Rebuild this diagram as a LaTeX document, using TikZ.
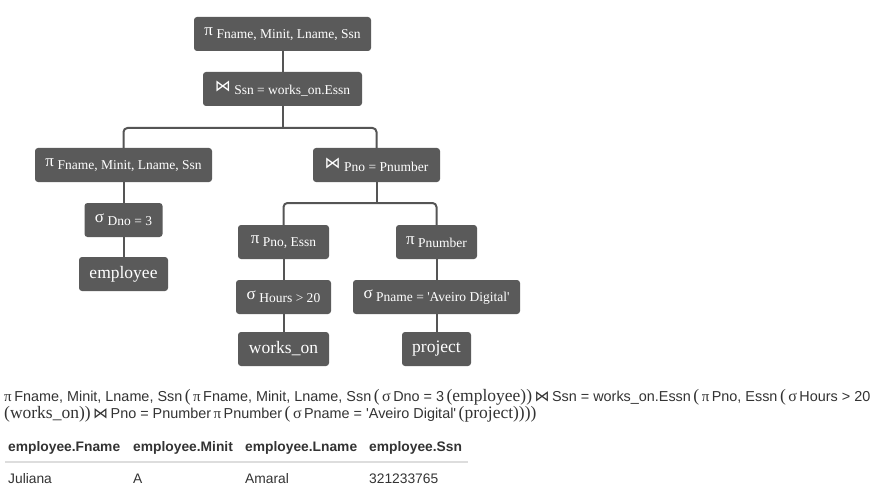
\documentclass[tikz,border=0pt]{standalone}
\usepackage{fontspec}
\setmainfont{Liberation Serif}
\newfontfamily\sansf{Liberation Sans}
\newfontfamily\dejavu{DejaVu Sans}
\definecolor{boxc}{HTML}{5A5A5A}
\definecolor{linec}{HTML}{555555}
\definecolor{txtc}{HTML}{333333}
\definecolor{rulec}{HTML}{DDDDDD}
% box label helpers
\newcommand\bpi{{\fontsize{17}{18}\selectfont π}}
\newcommand\bsig{{\fontsize{17}{18}\selectfont σ}}
\newcommand\bbow{{\dejavu\fontsize{16}{18}\selectfont ⋈}}
\newcommand\bsub[1]{\raisebox{-3pt}{\fontsize{13.5}{15}\selectfont #1}}
% expression helpers
\newcommand\epi{{\fontsize{15}{16}\selectfont π}}
\newcommand\esig{{\fontsize{16}{16}\selectfont σ}}
\newcommand\ebow{{\dejavu\fontsize{15}{16}\selectfont ⋈}}
\newcommand\esf[1]{{\sansf\fontsize{14.4}{16}\selectfont #1}}
\newcommand\ebig[1]{{\fontsize{17.5}{20}\selectfont #1}}
\newcommand\sq{\XeTeXglyph\XeTeXcharglyph"0027\relax}
\begin{document}
\begin{tikzpicture}[x=1pt,y=-1pt,
  opbox/.style={fill=boxc, text=white, rounded corners=3pt, minimum height=34pt, inner sep=0pt, font=\fontsize{14}{16}\selectfont},
  relbox/.style={opbox, font=\fontsize{17.5}{20}\selectfont},
  conn/.style={draw=linec, line width=2pt, rounded corners=4pt},
  hdr/.style={anchor=base west, inner sep=0pt, text=txtc, font=\sansf\bfseries\fontsize{13.8}{16}\selectfont},
  cell/.style={anchor=base west, inner sep=0pt, text=txtc, font=\sansf\fontsize{13.8}{16}\selectfont},
  expr/.style={anchor=base west, inner sep=0pt, text=txtc}]
\useasboundingbox (0,0) rectangle (877,497);
\fill[white] (0,0) rectangle (877,497);

% tree nodes
\node[opbox, minimum width=177pt] (root) at (282.5,34) {\bpi\ \bsub{Fname, Minit, Lname, Ssn}};
\node[opbox, minimum width=159pt] (ssn) at (282.5,89) {\bbow\ \bsub{Ssn = works\_on.Essn}};
\node[opbox, minimum width=177pt] (lp) at (123.5,165) {\bpi\ \bsub{Fname, Minit, Lname, Ssn}};
\node[opbox, minimum width=127pt] (jp) at (376.5,165) {\bbow\ \bsub{Pno = Pnumber}};
\node[opbox, minimum width=78pt] (sd) at (123.5,220) {\bsig\ \bsub{Dno = 3}};
\node[relbox, minimum width=89pt] (emp) at (123.5,274) {employee};
\node[opbox, minimum width=91pt] (pe) at (283.5,242) {\bpi\ \bsub{Pno, Essn}};
\node[opbox, minimum width=81pt] (pn) at (436.5,242) {\bpi\ \bsub{Pnumber}};
\node[opbox, minimum width=95pt] (sh) at (283.5,297) {\bsig\ \bsub{Hours > 20}};
\node[opbox, minimum width=167pt] (sp) at (436.5,297) {\bsig\ \bsub{Pname = \sq Aveiro Digital\sq}};
\node[relbox, minimum width=91pt] (wo) at (283.5,349) {works\_on};
\node[relbox, minimum width=69pt] (pr) at (436.5,349) {project};

% connectors
\coordinate (b1) at (282.5,128);
\coordinate (b2) at (376.5,203);
\draw[conn] (root.south) -- (ssn.north);
\draw[conn] (ssn.south) -- (b1);
\draw[conn] (lp.north) -- (lp.north |- b1) -- (jp.north |- b1) -- (jp.north);
\draw[conn] (lp.south) -- (sd.north);
\draw[conn] (sd.south) -- (emp.north);
\draw[conn] (jp.south) -- (b2);
\draw[conn] (pe.north) -- (pe.north |- b2) -- (pn.north |- b2) -- (pn.north);
\draw[conn] (pe.south) -- (sh.north);
\draw[conn] (sh.south) -- (wo.north);
\draw[conn] (pn.south) -- (sp.north);
\draw[conn] (sp.south) -- (pr.north);

% expression
\node[expr] (ex1) at (4,401) {\epi\ \esf{Fname, Minit, Lname, Ssn} \ebig{(} \epi\ \esf{Fname, Minit, Lname, Ssn} \ebig{(} \esig\ \esf{Dno = 3} \ebig{(employee))} \ebow\ \esf{Ssn = works\_on.Essn} \ebig{(} \epi\ \esf{Pno, Essn} \ebig{(} \esig\ \esf{Hours > 20}};
\node[expr] (ex2) at (4,418) {\ebig{(works\_on))} \ebow\ \esf{Pno = Pnumber} \epi\ \esf{Pnumber} \ebig{(} \esig\ \esf{Pname = \sq Aveiro Digital\sq} \ebig{(project))))}};

% result table
\node[hdr] (h1) at (8,451) {employee.Fname};
\node[hdr] (h2) at (133,451) {employee.Minit};
\node[hdr] (h3) at (245,451) {employee.Lname};
\node[hdr] (h4) at (369,451) {employee.Ssn};
\draw[rulec, line width=2pt] (5,462) -- (468,462);
\node[cell] (c1) at (8,483) {Juliana};
\node[cell] (c2) at (133,483) {A};
\node[cell] (c3) at (245,483) {Amaral};
\node[cell] (c4) at (369,483) {321233765};
\end{tikzpicture}
\end{document}
